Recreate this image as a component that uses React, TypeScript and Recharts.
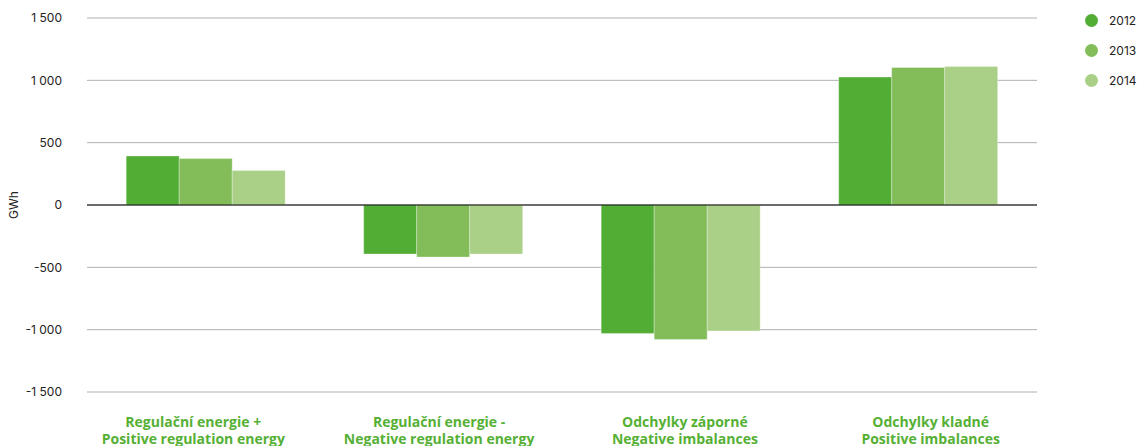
import { BarChart, Bar, XAxis, YAxis, CartesianGrid, ReferenceLine } from 'recharts'

const categoriesCz = ['Regulační energie +', 'Regulační energie -', 'Odchylky záporné', 'Odchylky kladné']
const categoriesEn = ['Positive regulation energy', 'Negative regulation energy', 'Negative imbalances', 'Positive imbalances']
const values2012 = [393, -393, -1030, 1026]
const values2013 = [372, -417, -1079, 1103]
const values2014 = [277, -393, -1010, 1111]
const yTicks = [-1500, -1000, -500, 0, 500, 1000, 1500]
const years = ['2012', '2013', '2014']
const colors = ['#52ad34', '#82bd5a', '#aad087']

const data = categoriesCz.map((cz, i) => ({
  name: cz,
  en: categoriesEn[i],
  y2012: values2012[i],
  y2013: values2013[i],
  y2014: values2014[i],
}))

const formatTick = (v: number) => {
  const s = Math.abs(v).toString().replace(/\B(?=(\d{3})+(?!\d))/g, ' ')
  return v < 0 ? `-${s}` : s
}

// category labels are spread a little wider than the bar groups
function CategoryTick({ x, y, payload, index }: any) {
  const lx = x + (index - 1.5) * 8.3
  return (
    <text
      x={lx}
      y={y}
      textAnchor="middle"
      fill="#55b035"
      fontFamily="Open Sans"
      fontWeight={700}
      fontSize={14}
    >
      <tspan x={lx} dy={27}>{payload.value}</tspan>
      <tspan x={lx} dy={17}>{categoriesEn[index]}</tspan>
    </text>
  )
}

// year legend sits to the right of the plot, outside the chart's layout
function YearLegend() {
  return (
    <div style={{ position: 'absolute', left: 1085, top: 5, fontFamily: 'Inter', fontSize: 12, color: '#222' }}>
      {years.map((yr, i) => (
        <div key={yr} style={{ display: 'flex', alignItems: 'center', height: 30 }}>
          <span
            style={{
              width: 13,
              height: 13,
              borderRadius: '50%',
              background: colors[i],
              display: 'inline-block',
              marginRight: 11,
            }}
          />
          {yr}
        </div>
      ))}
    </div>
  )
}

export default function App() {
  return (
    <div style={{ position: 'absolute', left: 0, top: 0, width: 1141, height: 446, background: '#fff' }}>
      <BarChart
        width={1141}
        height={446}
        data={data}
        margin={{ top: 18, right: 104, left: 0, bottom: 0 }}
        barGap={0}
        barCategoryGap="16.5%"
      >
        <CartesianGrid vertical={false} stroke="#b0b0b0" />
        <XAxis
          dataKey="name"
          axisLine={false}
          tickLine={false}
          height={54}
          interval={0}
          tick={<CategoryTick />}
        />
        <YAxis
          domain={[-1500, 1500]}
          ticks={yTicks}
          width={87}
          axisLine={false}
          tickLine={false}
          tickSize={0}
          tickMargin={25}
          tickFormatter={formatTick}
          tick={{ fill: '#222', fontFamily: 'Inter', fontSize: 12 }}
          label={{
            value: 'GWh',
            angle: -90,
            position: 'insideLeft',
            offset: 14,
            style: { fill: '#222', fontFamily: 'Inter', fontSize: 12, textAnchor: 'middle' },
          }}
        />
        <ReferenceLine y={0} stroke="#000" strokeWidth={1.2} />
        <Bar dataKey="y2012" name="2012" fill={colors[0]} stroke="#ffffff" strokeOpacity={0.3} isAnimationActive={false} />
        <Bar dataKey="y2013" name="2013" fill={colors[1]} stroke="#ffffff" strokeOpacity={0.3} isAnimationActive={false} />
        <Bar dataKey="y2014" name="2014" fill={colors[2]} stroke="#ffffff" strokeOpacity={0.3} isAnimationActive={false} />
      </BarChart>
      <YearLegend />
    </div>
  )
}
